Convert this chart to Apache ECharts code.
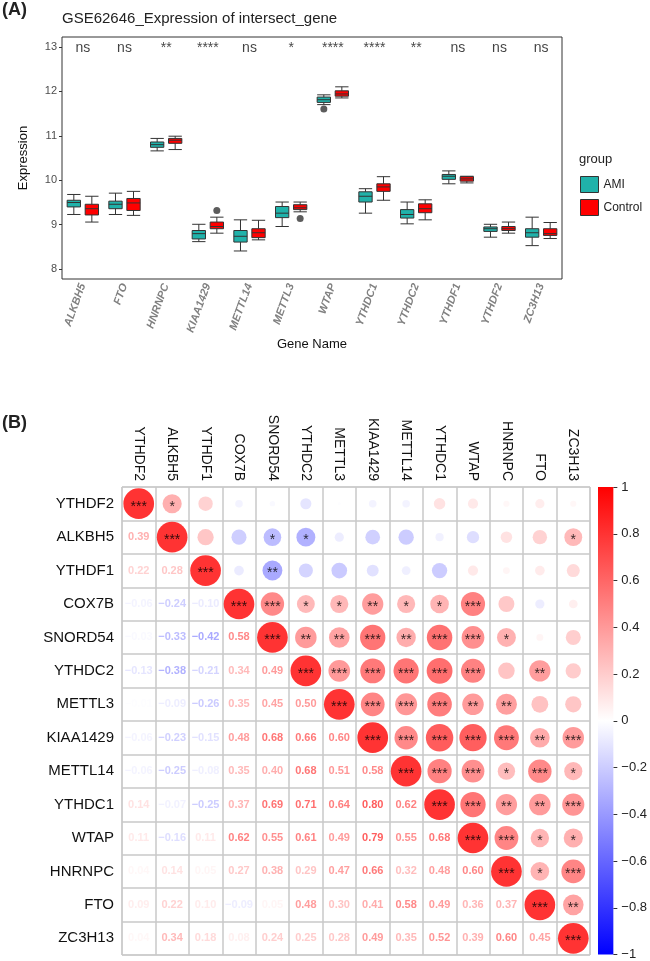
<!DOCTYPE html>
<html>
<head>
<meta charset="utf-8">
<script src="https://cdn.jsdelivr.net/npm/echarts@6/dist/echarts.min.js"></script>
<style>
  html, body { margin: 0; padding: 0; background: #fff; }
  #main { width: 650px; height: 961px; }
</style>
</head>
<body>
<div id="main"></div>
<script>
  // ---- panel A: boxplots ----
  var boxGenes = ['ALKBH5', 'FTO', 'HNRNPC', 'KIAA1429', 'METTL14', 'METTL3', 'WTAP', 'YTHDC1', 'YTHDC2', 'YTHDF1', 'YTHDF2', 'ZC3H13']
  var sigLabels = ['ns', 'ns', '**', '****', 'ns', '*', '****', '****', '**', 'ns', 'ns', 'ns']
  // [min, Q1, median, Q3, max]
  var amiBox = [
    [9.23, 9.40, 9.50, 9.55, 9.68],
    [9.23, 9.36, 9.46, 9.53, 9.71],
    [10.66, 10.74, 10.80, 10.86, 10.94],
    [8.62, 8.68, 8.80, 8.87, 9.01],
    [8.41, 8.61, 8.74, 8.87, 9.11],
    [8.96, 9.16, 9.26, 9.41, 9.51],
    [11.70, 11.75, 11.81, 11.87, 11.92],
    [9.26, 9.51, 9.64, 9.74, 9.81],
    [9.02, 9.15, 9.23, 9.34, 9.51],
    [9.92, 10.02, 10.09, 10.13, 10.21],
    [8.72, 8.85, 8.91, 8.95, 9.01],
    [8.53, 8.72, 8.82, 8.91, 9.17]
  ]
  var ctrlBox = [
    [9.06, 9.22, 9.36, 9.46, 9.64],
    [9.21, 9.32, 9.49, 9.59, 9.75],
    [10.69, 10.83, 10.90, 10.94, 10.99],
    [8.81, 8.91, 8.96, 9.06, 9.17],
    [8.66, 8.71, 8.82, 8.91, 9.10],
    [9.29, 9.34, 9.38, 9.45, 9.51],
    [11.85, 11.89, 11.94, 12.01, 12.10],
    [9.55, 9.75, 9.85, 9.92, 10.08],
    [9.11, 9.27, 9.36, 9.47, 9.56],
    [9.94, 9.98, 10.03, 10.08, 10.09],
    [8.81, 8.87, 8.91, 8.96, 9.06],
    [8.69, 8.76, 8.80, 8.91, 9.05]
  ]
  var amiOutliers = [[6, 11.60]]
  var ctrlOutliers = [[3, 9.32], [5, 9.14]]

  // ---- panel B: correlation matrix ----
  var corrGenes = ['YTHDF2', 'ALKBH5', 'YTHDF1', 'COX7B', 'SNORD54', 'YTHDC2', 'METTL3', 'KIAA1429', 'METTL14', 'YTHDC1', 'WTAP', 'HNRNPC', 'FTO', 'ZC3H13']
  var corrLower = [
    [],
    [0.39],
    [0.22, 0.28],
    [-0.06, -0.24, -0.10],
    [-0.03, -0.33, -0.42, 0.58],
    [-0.13, -0.38, -0.21, 0.34, 0.49],
    [-0.01, -0.09, -0.26, 0.35, 0.45, 0.50],
    [-0.06, -0.23, -0.15, 0.48, 0.68, 0.66, 0.60],
    [-0.06, -0.25, -0.08, 0.35, 0.40, 0.68, 0.51, 0.58],
    [0.14, -0.07, -0.25, 0.37, 0.69, 0.71, 0.64, 0.80, 0.62],
    [0.11, -0.16, 0.11, 0.62, 0.55, 0.61, 0.49, 0.79, 0.55, 0.68],
    [0.04, 0.14, 0.05, 0.27, 0.38, 0.29, 0.47, 0.66, 0.32, 0.48, 0.60],
    [0.09, 0.22, 0.10, -0.09, 0.05, 0.48, 0.30, 0.41, 0.58, 0.49, 0.36, 0.37],
    [0.04, 0.34, 0.18, 0.08, 0.24, 0.25, 0.28, 0.49, 0.35, 0.52, 0.39, 0.60, 0.45]
  ]
  // significance stars for the upper triangle, row i, columns i+1 .. end
  var starsUpper = [
    ['*', '', '', '', '', '', '', '', '', '', '', '', ''],
    ['', '', '*', '*', '', '', '', '', '', '', '', '*'],
    ['', '**', '', '', '', '', '', '', '', '', ''],
    ['***', '*', '*', '**', '*', '*', '***', '', '', ''],
    ['**', '**', '***', '**', '***', '***', '*', '', ''],
    ['***', '***', '***', '***', '***', '', '**', ''],
    ['***', '***', '***', '**', '**', '', ''],
    ['***', '***', '***', '***', '**', '***'],
    ['***', '***', '*', '***', '*'],
    ['***', '**', '**', '***'],
    ['***', '*', '*'],
    ['*', '***'],
    ['**'],
    []
  ]

  function corrColor (r) {
    var t = Math.min(1, Math.abs(r))
    var c = Math.round(255 * (1 - t))
    return r >= 0 ? 'rgb(255,' + c + ',' + c + ')' : 'rgb(' + c + ',' + c + ',255)'
  }
  function fmt (v) {
    return v.toFixed(2).replace('-', '\u2212')
  }

  var circleData = []
  var textData = []
  for (var i = 0; i < corrGenes.length; i++) {
    for (var j = 0; j < corrGenes.length; j++) {
      if (j >= i) {
        var r = j === i ? 1 : corrLower[j][i]
        var st = j === i ? '***' : starsUpper[i][j - i - 1]
        circleData.push({value: [j, i, r], stars: st, itemStyle: {color: corrColor(r)}})
      } else {
        var v = corrLower[i][j]
        textData.push({value: [j, i, v], label: {color: corrColor(v)}})
      }
    }
  }

  var FONT = 'Liberation Sans, Arial, sans-serif'
  var chart = echarts.init(document.getElementById('main'))
  chart.setOption({
    animation: false,
    backgroundColor: '#fff',
    textStyle: {fontFamily: FONT},
    title: [
      {text: '(A)', left: 2, top: 1, padding: 0, textStyle: {fontSize: 18, fontWeight: 'bold', color: '#222', fontFamily: FONT}},
      {text: 'GSE62646_Expression of intersect_gene', left: 62, top: 11, padding: 0, textStyle: {fontSize: 15, fontWeight: 'normal', color: '#222', fontFamily: FONT}},
      {text: 'group', left: 579, top: 153, padding: 0, textStyle: {fontSize: 13, fontWeight: 'normal', color: '#222', fontFamily: FONT}},
      {text: '(B)', left: 2, top: 414, padding: 0, textStyle: {fontSize: 18, fontWeight: 'bold', color: '#222', fontFamily: FONT}}
    ],
    legend: {
      data: [
        {name: 'AMI', itemStyle: {color: '#20b2aa', borderColor: '#333', borderWidth: 1}},
        {name: 'Control', itemStyle: {color: '#ff0000', borderColor: '#333', borderWidth: 1}}
      ],
      orient: 'vertical',
      left: 580,
      top: 176,
      padding: 0,
      itemWidth: 18,
      itemHeight: 16,
      itemGap: 6,
      icon: 'rect',
      textStyle: {fontSize: 12, color: '#222', fontFamily: FONT}
    },
    grid: [
      {left: 62, top: 37, width: 500, height: 242, show: true, borderColor: '#333', borderWidth: 1, backgroundColor: '#fff'},
      {left: 122, top: 487, width: 468, height: 468, show: true, borderColor: '#c8c8c8', borderWidth: 1},
      {left: 598, top: 487, width: 17, height: 468}
    ],
    xAxis: [
      {
        gridIndex: 0,
        type: 'category',
        data: boxGenes,
        name: 'Gene Name',
        nameLocation: 'middle',
        nameGap: 33,
        nameTextStyle: {fontSize: 13, color: '#111'},
        axisLine: {show: false},
        axisTick: {alignWithLabel: true, length: 3, lineStyle: {color: '#333'}},
        axisLabel: {rotate: 70, fontSize: 11, fontStyle: 'italic', fontWeight: 'bold', color: '#808080', margin: 5}
      },
      {
        gridIndex: 1,
        type: 'category',
        data: corrGenes,
        position: 'top',
        axisLine: {show: false},
        axisTick: {show: false},
        axisLabel: {rotate: 90, fontSize: 14, color: '#111', margin: 6},
        splitLine: {show: true, lineStyle: {color: '#c8c8c8', width: 1.5}}
      },
      {
        gridIndex: 2,
        type: 'category',
        data: [''],
        show: false
      }
    ],
    yAxis: [
      {
        gridIndex: 0,
        type: 'value',
        min: 7.78,
        max: 13.22,
        name: 'Expression',
        nameLocation: 'middle',
        nameGap: 32,
        nameTextStyle: {fontSize: 13, color: '#111'},
        axisLine: {show: false},
        axisTick: {show: true, length: 3, lineStyle: {color: '#333'}},
        axisLabel: {fontSize: 11, color: '#4d4d4d', margin: 5, showMinLabel: false, showMaxLabel: false},
        splitLine: {show: false}
      },
      {
        gridIndex: 1,
        type: 'category',
        data: corrGenes,
        inverse: true,
        axisLine: {show: false},
        axisTick: {show: false},
        axisLabel: {fontSize: 15, color: '#111', margin: 8},
        splitLine: {show: true, lineStyle: {color: '#c8c8c8', width: 1.5}}
      },
      {
        gridIndex: 2,
        type: 'value',
        min: -1,
        max: 1,
        interval: 0.2,
        position: 'right',
        axisLine: {show: false},
        axisTick: {show: true, length: 4, inside: false, lineStyle: {color: '#333'}},
        axisLabel: {fontSize: 13, color: '#222', margin: 8, formatter: function (v) { return String(Math.round(v * 10) / 10).replace('-', '\u2212') }},
        splitLine: {show: false}
      }
    ],
    series: [
      {
        name: 'AMI',
        type: 'boxplot',
        xAxisIndex: 0,
        yAxisIndex: 0,
        data: amiBox,
        itemStyle: {color: '#20b2aa', borderColor: '#333', borderWidth: 1}
      },
      {
        name: 'Control',
        type: 'boxplot',
        xAxisIndex: 0,
        yAxisIndex: 0,
        data: ctrlBox,
        itemStyle: {color: '#ff0000', borderColor: '#333', borderWidth: 1}
      },
      {
        type: 'scatter',
        xAxisIndex: 0,
        yAxisIndex: 0,
        data: amiOutliers,
        symbolSize: 7,
        symbolOffset: [-9, 0],
        itemStyle: {color: '#333'}
      },
      {
        type: 'scatter',
        xAxisIndex: 0,
        yAxisIndex: 0,
        data: ctrlOutliers,
        symbolSize: 7,
        symbolOffset: [9, 0],
        itemStyle: {color: '#333'}
      },
      {
        type: 'scatter',
        xAxisIndex: 0,
        yAxisIndex: 0,
        symbolSize: 0,
        data: sigLabels.map(function (s, k) { return [k, 12.98] }),
        label: {
          show: true,
          position: 'inside',
          fontSize: 14,
          color: '#111',
          formatter: function (p) { return sigLabels[p.dataIndex] }
        }
      },
      {
        type: 'scatter',
        xAxisIndex: 1,
        yAxisIndex: 1,
        data: circleData,
        symbolSize: function (v) { return 30.7 * Math.sqrt(Math.abs(v[2])) },
        label: {
          show: true,
          position: 'inside',
          offset: [0, 3],
          fontSize: 14,
          color: '#000',
          formatter: function (p) { return p.data.stars }
        }
      },
      {
        type: 'scatter',
        xAxisIndex: 1,
        yAxisIndex: 1,
        data: textData,
        symbolSize: 0,
        label: {
          show: true,
          position: 'inside',
          fontSize: 11,
          fontWeight: 'bold',
          formatter: function (p) { return fmt(p.value[2]) }
        }
      },
      {
        type: 'bar',
        xAxisIndex: 2,
        yAxisIndex: 2,
        stack: 'cb',
        barWidth: '100%',
        data: [1],
        itemStyle: {color: new echarts.graphic.LinearGradient(0, 0, 0, 1, [{offset: 0, color: '#ff0000'}, {offset: 1, color: '#ffffff'}])}
      },
      {
        type: 'bar',
        xAxisIndex: 2,
        yAxisIndex: 2,
        stack: 'cb',
        barWidth: '100%',
        data: [-1],
        itemStyle: {color: new echarts.graphic.LinearGradient(0, 0, 0, 1, [{offset: 0, color: '#ffffff'}, {offset: 1, color: '#0000ff'}])}
      }
    ]
  })
</script>
</body>
</html>
